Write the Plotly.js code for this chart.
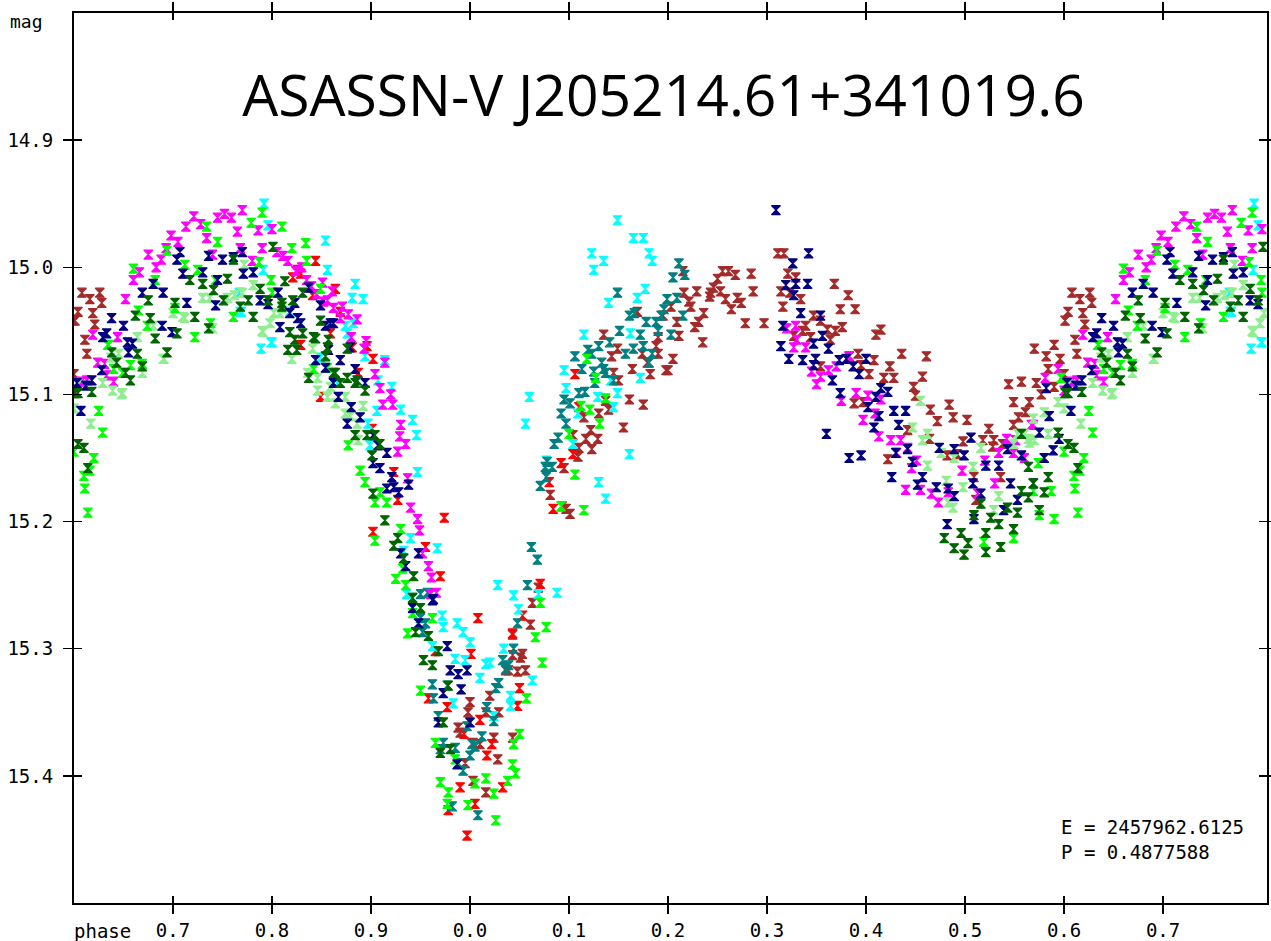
<!DOCTYPE html>
<html><head><meta charset="utf-8">
<script src="https://cdn.plot.ly/plotly-3.0.1.min.js"></script>
<style>html,body{margin:0;padding:0;background:#fff;}#chart{width:1271px;height:941px;}</style>
</head><body><div id="chart"></div>
<script>
// phase (0..1), magnitude
const magentaPts = [[0.613,15.089],[0.619,15.053],[0.624,15.075],[0.631,15.076],[0.633,15.085],[0.644,15.055],[0.652,15.025],[0.640,15.090],
[0.660,15.010],[0.666,15.004],[0.675,14.990],[0.683,15.000],[0.688,14.994],[0.693,14.985],[0.698,14.975],[0.705,14.980],[0.713,14.968],[0.721,14.960],[0.728,14.966],
[0.734,14.977],[0.740,14.990],[0.745,14.961],[0.752,14.958],[0.759,14.961],[0.765,14.972],[0.770,14.955],[0.768,14.985],[0.780,14.995],[0.786,14.971],[0.790,14.985],[0.800,14.970],[0.805,14.988],[0.811,14.991],[0.816,14.995],[0.824,15.003],[0.830,15.000],[0.835,15.010],[0.840,15.015],[0.845,15.021],[0.856,15.026],[0.862,15.032],[0.869,15.040],[0.880,15.055],
[0.851,15.012],[0.861,15.019],[0.871,15.031],[0.852,15.027],[0.877,15.037],[0.886,15.041],[0.895,15.058],[0.893,15.064],[0.914,15.075],[0.904,15.084],[0.909,15.095],[0.920,15.100],[0.912,15.108],[0.922,15.108],[0.930,15.124],[0.929,15.133],[0.935,15.139],[0.927,15.145],[0.937,15.166],[0.940,15.189],[0.947,15.198],[0.949,15.207],[0.952,15.225],[0.958,15.235],[0.961,15.244],[0.966,15.256],[0.960,15.257],
[0.329,15.046],[0.320,15.048],[0.330,15.057],[0.327,15.063],[0.339,15.063],[0.345,15.082],[0.354,15.086],[0.362,15.081],[0.370,15.078],[0.383,15.070],[0.350,15.092],[0.375,15.105],[0.390,15.099],[0.402,15.101],[0.415,15.104],[0.397,15.120],[0.409,15.115],[0.413,15.133],[0.425,15.136],[0.435,15.136],[0.431,15.146],[0.451,15.152],[0.442,15.142],[0.446,15.158],[0.455,15.175],[0.440,15.175],[0.473,15.185],[0.483,15.177],[0.466,15.178],[0.497,15.160],[0.513,15.178],[0.520,15.152],[0.530,15.170],[0.534,15.146],[0.542,15.135],[0.549,15.146],[0.560,15.150],[0.569,15.124],[0.581,15.087],[0.594,15.080],[0.567,15.124],[0.551,15.136],[0.607,15.090],[0.600,15.097]];

const greenPts = [[0.600,15.145],[0.611,15.174],[0.614,15.193],[0.616,15.160],[0.625,15.113],[0.629,15.130],[0.620,15.150],[0.634,15.061],[0.640,15.080],[0.649,15.083],[0.657,15.077],[0.669,15.076],[0.660,15.001],[0.665,15.034],[0.674,15.046],[0.682,15.010],[0.694,14.987],[0.702,15.032],[0.712,14.998],[0.722,15.055],[0.725,15.002],[0.734,14.968],[0.738,15.044],[0.745,14.980],[0.743,15.010],[0.761,15.039],[0.779,14.965],[0.787,14.996],[0.790,14.957],[0.800,15.020],[0.799,15.010],[0.810,14.968],[0.820,14.985],[0.834,14.981],[0.835,14.995],[0.849,15.017],[0.842,15.080],[0.856,15.079],[0.877,15.140],[0.889,15.160],[0.894,15.169],[0.904,15.185],[0.916,15.185],[0.909,15.177],[0.930,15.206],[0.904,15.215],[0.932,15.237],[0.925,15.245],[0.935,15.250],[0.937,15.288],[0.942,15.272],[0.962,15.276],[0.950,15.333],[0.965,15.374],[0.978,15.413],[0.970,15.405],[0.977,15.422],[0.998,15.423],[0.985,15.387],[0.005,15.406],[0.016,15.402],[0.026,15.435],[0.024,15.414],[0.038,15.404],[0.046,15.398],[0.043,15.391],[0.044,15.375],[0.050,15.367],[0.057,15.339],[0.073,15.311],[0.077,15.283],[0.066,15.291],[0.071,15.264],[0.118,15.072],[0.127,15.087],[0.112,15.109],[0.121,15.112],[0.137,15.103],[0.131,15.123],[0.100,15.131],[0.106,15.163],[0.115,15.191],[0.092,15.188],[0.519,15.216],[0.549,15.213],[0.574,15.154],[0.597,15.087],[0.590,15.198],[0.575,15.195],[0.587,15.176],[0.569,15.176],[0.635,15.061],[0.610,15.164]];

const darkGreenPts = [[0.601,15.099],[0.618,15.098],[0.638,15.067],[0.643,15.075],[0.652,15.083],[0.657,15.089],[0.669,15.078],[0.664,15.068],[0.662,15.038],[0.675,15.026],[0.677,15.040],[0.682,15.056],[0.694,15.067],[0.702,15.028],[0.704,15.052],[0.717,15.010],[0.722,15.039],[0.730,15.013],[0.736,15.048],[0.741,15.018],[0.751,15.026],[0.755,15.009],[0.761,14.994],[0.768,15.031],[0.776,15.026],[0.781,15.039],[0.788,15.017],[0.801,14.984],[0.796,15.026],[0.810,15.031],[0.821,15.026],[0.818,15.051],[0.816,15.065],[0.831,15.052],[0.825,15.065],[0.842,15.055],[0.837,15.087],[0.856,15.063],[0.862,15.083],[0.876,15.087],[0.884,15.091],
[0.813,15.011],[0.831,15.020],[0.810,15.028],[0.823,15.057],[0.844,15.056],[0.849,15.042],[0.854,15.070],[0.857,15.057],[0.864,15.083],[0.876,15.064],[0.869,15.091],[0.886,15.089],[0.894,15.097],[0.884,15.132],[0.896,15.132],[0.904,15.132],[0.909,15.139],[0.901,15.148],[0.902,15.178],[0.914,15.199],[0.927,15.213],[0.923,15.219],[0.933,15.229],[0.943,15.243],[0.942,15.260],
[0.950,15.268],[0.945,15.287],[0.958,15.290],[0.968,15.302],[0.953,15.309],[0.962,15.313],[0.978,15.329],[0.973,15.358],[0.970,15.382],[0.980,15.379],
[0.479,15.213],[0.496,15.209],[0.489,15.221],[0.499,15.226],[0.503,15.217],[0.509,15.195],[0.516,15.186],[0.526,15.197],[0.534,15.202],[0.521,15.224],[0.536,15.220],[0.521,15.209],[0.543,15.189],[0.553,15.193],[0.549,15.206],[0.564,15.181],[0.557,15.176],[0.564,15.157],[0.584,15.165],[0.580,15.177],[0.575,15.191],[0.569,15.170],[0.594,15.130],[0.604,15.139],[0.610,15.142],[0.604,15.099],[0.614,15.158],[0.557,15.131]];

const navyPts = [[0.603,15.091],[0.618,15.089],[0.628,15.081],[0.629,15.055],[0.638,15.040],[0.650,15.046],[0.633,15.052],[0.654,15.059],[0.659,15.060],[0.655,15.067],[0.669,15.020],[0.680,15.013],[0.690,15.020],[0.689,15.046],[0.699,15.051],[0.704,14.994],[0.707,14.988],[0.710,15.005],[0.714,15.028],[0.730,15.004],[0.736,14.991],[0.745,15.010],[0.750,14.994],[0.743,15.030],[0.761,14.992],[0.771,15.005],[0.770,14.988],[0.781,15.004],[0.788,15.026],[0.796,15.029],[0.806,15.020],[0.818,15.036],[0.826,15.040],[0.837,15.016],[0.849,15.030],[0.859,15.044],[0.808,15.047],[0.844,15.073],[0.854,15.079],[0.869,15.073],[0.867,15.102],[0.862,15.091],[0.879,15.063],
[0.823,15.028],[0.829,15.044],[0.854,15.046],[0.862,15.044],[0.857,15.065],[0.884,15.080],[0.894,15.091],[0.880,15.110],[0.889,15.118],[0.876,15.123],[0.902,15.132],[0.907,15.140],[0.916,15.146],[0.902,15.154],[0.909,15.158],[0.921,15.165],[0.923,15.173],[0.916,15.174],[0.928,15.177],[0.938,15.171],[0.930,15.225],[0.948,15.225],[0.935,15.235],[0.963,15.261],
[0.962,15.262],[0.942,15.268],[0.948,15.280],[0.977,15.298],[0.980,15.317],[0.988,15.320],[0.997,15.317],[0.991,15.332],[0.973,15.335],[0.968,15.358],[0.000,15.358],[0.987,15.391],
[0.309,14.955],[0.342,14.989],[0.326,14.997],[0.319,15.014],[0.329,15.013],[0.341,15.013],[0.327,15.022],[0.334,15.036],[0.316,15.046],[0.314,15.062],[0.322,15.072],[0.336,15.073],[0.347,15.060],[0.349,15.072],[0.354,15.038],[0.356,15.054],[0.362,15.064],[0.347,15.077],[0.373,15.073],[0.380,15.072],[0.387,15.078],[0.393,15.084],[0.400,15.072],[0.366,15.089],[0.374,15.099],[0.415,15.095],[0.422,15.098],[0.410,15.102],[0.402,15.110],[0.428,15.113],[0.440,15.113],[0.413,15.117],[0.433,15.124],[0.408,15.126],[0.360,15.131],[0.442,15.143],[0.430,15.146],[0.447,15.153],[0.383,15.150],[0.395,15.148],[0.426,15.165],[0.457,15.165],[0.452,15.171],[0.471,15.173],[0.483,15.174],[0.489,15.180],[0.474,15.142],[0.489,15.143],[0.499,15.148],[0.506,15.134],[0.508,15.170],[0.516,15.178],[0.509,15.198],[0.482,15.202],[0.521,15.156],[0.534,15.156],[0.543,15.143],[0.546,15.170],[0.553,15.183],[0.557,15.148],[0.575,15.130],[0.580,15.150],[0.569,15.170],[0.539,15.191],[0.582,15.095],[0.585,15.117],[0.589,15.144],[0.595,15.135],[0.607,15.113],[0.612,15.093]];

const lightGreenPts = [[0.604,15.092],[0.629,15.091],[0.639,15.097],[0.645,15.068],[0.649,15.099],[0.664,15.055],[0.669,15.083],[0.680,15.046],[0.690,15.072],[0.700,15.036],[0.712,15.040],[0.730,15.024],[0.740,15.048],[0.755,15.024],[0.762,15.022],[0.770,15.020],[0.781,15.014],[0.790,15.050],[0.798,15.044],[0.795,15.026],[0.808,15.036],[0.820,15.072],[0.836,15.083],[0.846,15.097],[0.856,15.102],[0.874,15.102],
[0.810,15.032],[0.841,15.064],[0.846,15.087],[0.859,15.094],[0.864,15.107],[0.874,15.115],[0.879,15.117],[0.892,15.109],[0.886,15.123],[0.887,15.136],
[0.455,15.105],[0.447,15.126],[0.462,15.131],[0.457,15.136],[0.476,15.146],[0.462,15.156],[0.481,15.168],[0.498,15.173],[0.483,15.185],[0.488,15.189],[0.489,15.150],[0.516,15.142],[0.508,15.157],[0.529,15.191],[0.534,15.180],[0.553,15.131],[0.560,15.131],[0.565,15.138],[0.570,15.136],[0.584,15.131],[0.580,15.114],[0.594,15.106],[0.600,15.111],[0.549,15.139],[0.564,15.135],[0.569,15.119],[0.617,15.123],[0.637,15.071],[0.648,15.100],[0.691,15.072],[0.710,15.039],[0.737,15.024],[0.772,14.998],[0.791,15.051],[0.802,15.036]];

const brownPts = [[0.608,15.020],[0.616,15.025],[0.626,15.020],[0.628,15.028],[0.604,15.035],[0.619,15.036],[0.601,15.042],[0.621,15.045],[0.611,15.057],[0.613,15.068],
[0.069,15.252],[0.063,15.264],[0.061,15.281],[0.043,15.289],[0.051,15.307],[0.056,15.317],[0.048,15.318],[0.039,15.317],[0.043,15.305],[0.020,15.337],[0.000,15.342],[0.998,15.350],[0.016,15.350],[0.029,15.350],[0.988,15.362],[0.990,15.366],[0.003,15.374],[0.010,15.375],[0.024,15.370],[0.043,15.370],[0.995,15.390],[0.003,15.404],[0.016,15.413],[0.028,15.387],[0.036,15.317],[0.053,15.304],
[0.135,15.053],[0.149,15.064],[0.143,15.070],[0.174,15.068],[0.164,15.080],[0.145,15.083],[0.150,15.089],[0.179,15.075],[0.182,15.084],[0.188,15.062],[0.190,15.055],[0.205,15.072],[0.198,15.081],[0.161,15.104],[0.175,15.108],[0.140,15.112],[0.137,15.105],[0.130,15.115],[0.115,15.118],[0.155,15.126],[0.122,15.128],[0.117,15.135],[0.129,15.135],[0.104,15.132],[0.123,15.143],[0.110,15.142],[0.109,15.149],[0.095,15.158],[0.081,15.179],[0.093,15.188],[0.101,15.194],[0.097,15.190],
[0.215,15.003],[0.250,15.009],[0.243,15.020],[0.229,15.019],[0.216,15.020],[0.221,15.027],[0.223,15.031],[0.203,15.031],[0.195,15.038],[0.209,15.043],[0.236,15.036],[0.231,15.043],[0.227,15.047],[0.211,15.054],[0.235,15.059],[0.169,15.035],[0.255,15.003],[0.261,15.003],[0.268,15.006],[0.284,15.005],[0.246,15.016],[0.253,15.019],[0.242,15.023],[0.258,15.025],[0.270,15.024],[0.274,15.028],[0.286,15.019],[0.264,15.033],[0.278,15.044],[0.297,15.044],[0.200,15.081],[0.190,15.068],
[0.311,14.989],[0.317,14.989],[0.321,15.005],[0.329,15.008],[0.314,15.019],[0.323,15.020],[0.334,15.025],[0.316,15.031],[0.347,15.038],[0.339,15.046],[0.327,15.054],[0.344,15.055],[0.368,15.013],[0.382,15.022],[0.374,15.033],[0.389,15.033],[0.354,15.042],[0.361,15.049],[0.369,15.050],[0.376,15.047],[0.336,15.050],[0.364,15.057],[0.410,15.053],[0.415,15.049],[0.436,15.068],[0.461,15.070],[0.392,15.068],[0.383,15.070],[0.408,15.073],[0.354,15.078],[0.395,15.077],[0.424,15.078],[0.403,15.084],[0.418,15.087],[0.428,15.087],[0.457,15.086],[0.448,15.094],[0.450,15.101],[0.397,15.106],[0.388,15.107],[0.465,15.112],[0.484,15.108],[0.472,15.121],[0.488,15.118],[0.502,15.120],[0.442,15.128],[0.464,15.135],[0.498,15.137],[0.524,15.127],[0.518,15.136],[0.529,15.136],[0.528,15.141],[0.422,15.151],[0.482,15.148],[0.492,15.147],[0.538,15.139],[0.509,15.165],[0.511,15.183],[0.536,15.165],[0.549,15.124],[0.554,15.118],[0.561,15.114],[0.565,15.106],[0.549,15.106],[0.577,15.100],[0.544,15.092],[0.557,15.090],[0.572,15.091],[0.570,15.064],[0.582,15.070],[0.584,15.080],[0.590,15.061],[0.596,15.072],[0.590,15.094],[0.600,15.084]];

const redPts = [[0.844,14.995],[0.864,15.017],[0.829,15.005],[0.841,15.022],[0.869,15.035],[0.859,15.052],[0.881,15.063],[0.849,15.102],[0.829,15.061],[0.826,15.002],[0.821,15.008],[0.896,15.062],[0.902,15.072],[0.887,15.083],[0.901,15.127],[0.923,15.161],[0.927,15.183],[0.974,15.197],[0.902,15.208],[0.955,15.220],[0.970,15.243],
[0.008,15.276],[0.001,15.304],[0.965,15.302],[0.043,15.288],[0.053,15.274],[0.071,15.249],[0.958,15.339],[0.977,15.346],[0.050,15.331],[0.048,15.345],[0.994,15.367],[0.022,15.375],[0.017,15.384],[0.990,15.409],[0.033,15.409],[0.978,15.427],[0.005,15.422],[0.997,15.447],[0.010,15.356],
[0.106,15.084],[0.110,15.110],[0.104,15.147],[0.092,15.154],[0.080,15.169],[0.084,15.190]];

const cyanPts = [[0.796,14.967],[0.792,14.950],[0.854,14.979],[0.856,15.002],[0.791,15.002],[0.884,15.013],[0.881,15.024],[0.874,15.046],[0.882,15.044],[0.876,15.052],[0.800,15.059],[0.818,15.035],[0.768,15.035],[0.849,15.071],[0.866,15.091],[0.892,15.025],[0.894,15.070],[0.914,15.073],[0.921,15.094],[0.907,15.089],[0.906,15.113],[0.930,15.112],[0.942,15.120],[0.946,15.132],[0.897,15.123],[0.947,15.161],[0.899,15.140],[0.940,15.213],[0.933,15.223],[0.967,15.221],[0.936,15.257],
[0.028,15.250],[0.044,15.258],[0.069,15.257],[0.088,15.256],[0.972,15.274],[0.987,15.280],[0.973,15.283],[0.049,15.269],[0.993,15.287],[0.000,15.295],[0.962,15.298],[0.985,15.308],[0.995,15.309],[0.034,15.300],[0.016,15.312],[0.020,15.311],[0.010,15.323],[0.063,15.325],[0.041,15.337],[0.041,15.345],[0.983,15.343],[0.024,15.353],
[0.149,14.963],[0.165,14.977],[0.175,14.977],[0.123,14.989],[0.181,14.989],[0.184,14.995],[0.135,14.995],[0.125,15.002],[0.177,15.017],[0.169,15.024],[0.140,15.028],[0.115,15.053],[0.162,15.052],[0.095,15.081],[0.172,15.087],[0.142,15.089],[0.097,15.095],[0.060,15.102],[0.129,15.102],[0.149,15.099],[0.145,15.110],[0.056,15.123],[0.109,15.115],[0.104,15.139],[0.161,15.147],[0.077,15.152],[0.130,15.169],[0.137,15.182],
[0.767,15.020],[0.769,15.035],[0.789,15.064],[0.799,15.059]];

const tealPts = [[0.942,15.260],[0.957,15.256],[0.950,15.276],[0.955,15.280],[0.952,15.287],[0.048,15.280],[0.044,15.300],[0.033,15.309],[0.036,15.316],[0.039,15.313],[0.029,15.327],[0.026,15.331],[0.962,15.328],[0.977,15.329],[0.963,15.339],[0.017,15.346],[0.024,15.357],[0.997,15.361],[0.968,15.353],[0.012,15.369],[0.002,15.375],[0.005,15.377],[0.973,15.374],[0.985,15.378],[0.970,15.379],[0.988,15.390],[0.000,15.384],[0.993,15.396],[0.982,15.424],[0.008,15.431],[0.950,15.257],[0.062,15.220],[0.068,15.230],[0.058,15.250],
[0.211,14.997],[0.205,15.008],[0.217,15.006],[0.149,15.020],[0.199,15.025],[0.209,15.024],[0.196,15.033],[0.193,15.038],[0.215,15.038],[0.161,15.038],[0.166,15.036],[0.178,15.043],[0.188,15.043],[0.190,15.050],[0.151,15.050],[0.172,15.053],[0.203,15.053],[0.141,15.059],[0.130,15.062],[0.165,15.064],[0.175,15.062],[0.119,15.065],[0.123,15.068],[0.157,15.068],[0.184,15.068],[0.106,15.070],[0.133,15.075],[0.181,15.075],[0.113,15.080],[0.135,15.080],[0.137,15.083],[0.125,15.082],[0.126,15.091],[0.145,15.089],[0.110,15.099],[0.116,15.098],[0.095,15.104],[0.101,15.107],[0.092,15.115],[0.097,15.123],[0.089,15.134],[0.085,15.139],[0.078,15.153],[0.083,15.157],[0.076,15.157],[0.077,15.165],[0.071,15.172]];

const seriesColors = {brown:'#a52a2a', red:'#ff0000', cyan:'#00ffff', teal:'#008080', magenta:'#ff00ff', lightGreen:'#90ee90', green:'#00ff00', navy:'#000080', darkGreen:'#006400'};
const seriesData = [['brown',brownPts],['red',redPts],['cyan',cyanPts],['teal',tealPts],['magenta',magentaPts],['lightGreen',lightGreenPts],['green',greenPts],['navy',navyPts],['darkGreen',darkGreenPts]];

const xTickVals = [0.7,0.8,0.9,1.0,1.1,1.2,1.3,1.4,1.5,1.6,1.7];
const xTickText = ['0.7','0.8','0.9','0.0','0.1','0.2','0.3','0.4','0.5','0.6','0.7'];
const yTickVals = [14.9,15.0,15.1,15.2,15.3,15.4];
const yTickText = ['14.9','15.0','15.1','15.2','15.3','15.4'];
const xRange = [0.6, 1.805];
const yRange = [15.5, 14.8];
const epoch = '2457962.6125';
const period = '0.4877588';
const titleText = 'ASASSN-V J205214.61+341019.6';

const traces = seriesData.map(([name, pts]) => {
  const xs = [], ys = [];
  pts.forEach(([p, m]) => {
    xs.push(p >= 0.6 ? p : p + 1); ys.push(m);
    if (p >= 0.6 && p + 1 <= xRange[1]) { xs.push(p + 1); ys.push(m); }
  });
  return {x: xs, y: ys, type: 'scatter', mode: 'markers', name: name, hoverinfo: 'skip',
    marker: {symbol: 'hourglass', size: 9, color: seriesColors[name], line: {width: 1.2, color: seriesColors[name]}}, cliponaxis: true};
});
traces.push({x: [], y: [], xaxis: 'x2', yaxis: 'y2', type: 'scatter', mode: 'markers', showlegend: false, hoverinfo: 'skip'});

const monoFont = {family: 'DejaVu Sans Mono, monospace', size: 19, color: '#000'};
const axBase = {showgrid: false, zeroline: false, tickcolor: '#000', tickwidth: 1.5};
const layout = {
  width: 1271, height: 941,
  margin: {l: 74, r: 4, t: 13, b: 38},
  paper_bgcolor: '#fff', plot_bgcolor: '#fff', showlegend: false,
  title: {text: titleText, font: {family: 'Open Sans, sans-serif', size: 57, color: '#000'}, x: 0.522, xanchor: 'center', y: 0.898, yanchor: 'middle', yref: 'container'},
  xaxis: Object.assign({}, axBase, {range: xRange, tickvals: xTickVals, ticktext: xTickText, ticks: 'outside', ticklen: 9, showline: true, linewidth: 2, linecolor: '#000', mirror: 'ticks', tickfont: monoFont, ticklabelstandoff: 0}),
  yaxis: Object.assign({}, axBase, {range: yRange, tickvals: yTickVals, ticktext: yTickText, ticks: 'outside', ticklen: 9, showline: true, linewidth: 2, linecolor: '#000', mirror: 'ticks', tickfont: monoFont, ticklabelstandoff: 6}),
  xaxis2: Object.assign({}, axBase, {range: xRange, tickvals: xTickVals, ticks: 'inside', ticklen: 7, overlaying: 'x', anchor: 'y', showticklabels: false, showline: false, mirror: 'ticks'}),
  yaxis2: Object.assign({}, axBase, {range: yRange, tickvals: yTickVals, ticks: 'inside', ticklen: 8, overlaying: 'y', anchor: 'x', showticklabels: false, showline: false, mirror: 'ticks'}),
  annotations: [
    {text: 'mag', xref: 'paper', yref: 'paper', x: -0.055, y: 0.99, xanchor: 'left', yanchor: 'middle', showarrow: false, font: {family: 'DejaVu Sans Mono, monospace', size: 18, color: '#000'}},
    {text: 'phase', xref: 'paper', yref: 'paper', x: -0.002, y: -0.031, xanchor: 'left', yanchor: 'middle', showarrow: false, font: monoFont},
    {text: 'E = ' + epoch + '<br>P = ' + period, xref: 'paper', yref: 'paper', x: 0.826, y: 0.1, xanchor: 'left', yanchor: 'top', align: 'left', showarrow: false, font: monoFont}
  ]
};
Plotly.newPlot('chart', traces, layout, {displayModeBar: false, staticPlot: true});
</script></body></html>
